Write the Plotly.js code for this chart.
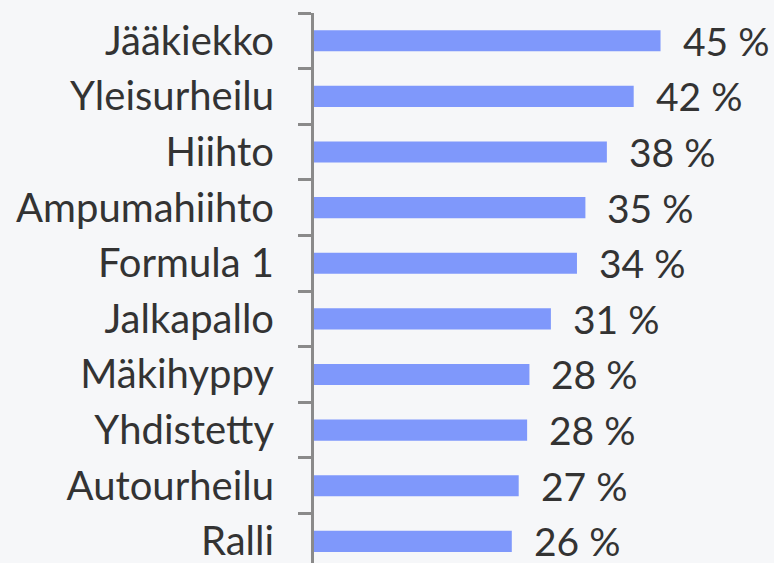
<!DOCTYPE html>
<html>
<head>
<meta charset="utf-8">
<script src="https://cdn.plot.ly/plotly-3.0.1.min.js"></script>
<style>
  html, body { margin: 0; padding: 0; background: #f6f7f9; }
  #chart { width: 774px; height: 563px; }
</style>
</head>
<body>
<div id="chart"></div>
<script>
const categories = ["Jääkiekko", "Yleisurheilu", "Hiihto", "Ampumahiihto", "Formula 1",
                    "Jalkapallo", "Mäkihyppy", "Yhdistetty", "Autourheilu", "Ralli"];
const values = [45.2, 41.7, 38.2, 35.4, 34.3, 30.9, 28.1, 27.8, 26.7, 25.8];
const labels = ["45 %", "42 %", "38 %", "35 %", "34 %", "31 %", "28 %", "28 %", "27 %", "26 %"];

const FONT = "Lato, 'Open Sans', sans-serif";
const TEXT = "#333333";
const AXIS = "#8a8a8a";

const trace = {
  type: "bar",
  orientation: "h",
  x: values,
  y: categories,
  marker: { color: "#7f98fb" },
  hoverinfo: "skip"
};

const annotations = categories.map((c, i) => ({
  x: values[i],
  y: c,
  xref: "x",
  yref: "y",
  text: labels[i],
  showarrow: false,
  xanchor: "left",
  yanchor: "middle",
  xshift: 20,
  font: { family: FONT, size: 39, color: TEXT }
}));

const layout = {
  width: 774,
  height: 563,
  margin: { l: 314, r: 0, t: 13, b: 0, pad: 0 },
  paper_bgcolor: "#f6f7f9",
  plot_bgcolor: "#f6f7f9",
  bargap: 0.62,
  showlegend: false,
  xaxis: {
    range: [0, 60],
    showgrid: false,
    zeroline: false,
    showline: false,
    showticklabels: false,
    ticks: ""
  },
  yaxis: {
    type: "category",
    categoryorder: "array",
    categoryarray: categories,
    range: [9.39, -0.5],
    showgrid: false,
    zeroline: false,
    showline: true,
    linecolor: AXIS,
    linewidth: 3,
    ticks: "outside",
    tickson: "boundaries",
    ticklen: 13,
    tickwidth: 3,
    tickcolor: AXIS,
    ticklabelstandoff: 29,
    automargin: false,
    tickfont: { family: FONT, size: 40, color: TEXT }
  },
  annotations: annotations
};

Plotly.newPlot("chart", [trace], layout, { displayModeBar: false, staticPlot: true });
</script>
</body>
</html>
